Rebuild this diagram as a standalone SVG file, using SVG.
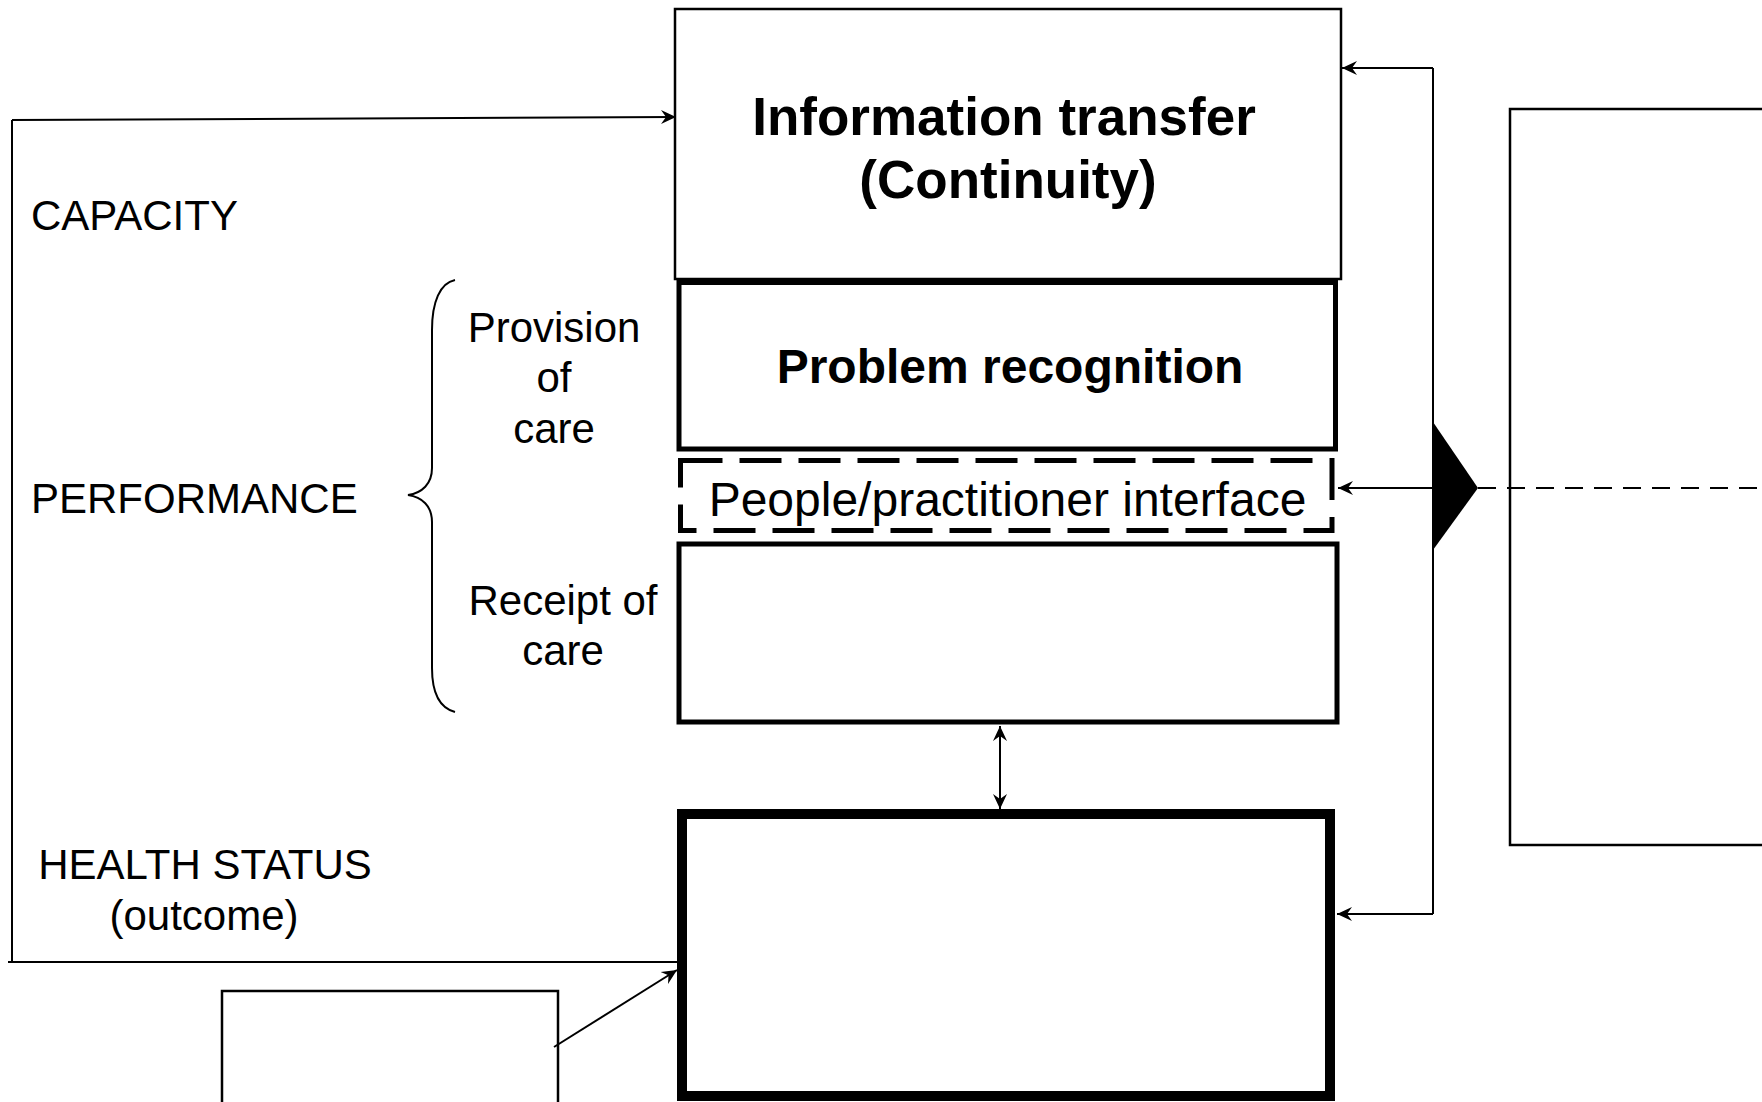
<svg xmlns="http://www.w3.org/2000/svg" width="1762" height="1102" viewBox="0 0 1762 1102">
  <style>
    .box { fill: #fff; stroke: #000; }
    .thin { stroke-width: 2.5; }
    .med { stroke-width: 5; }
    .thick { stroke-width: 10; }
    .dash { stroke-width: 5; stroke-dasharray: 42 17; fill: #fff; stroke: #000; }
    .conn { fill: none; stroke: #000; stroke-width: 2; }
    .lbl { font-family: "Liberation Sans", Arial, sans-serif; font-size: 42px; fill: #000; }
    .big { font-family: "Liberation Sans", Arial, sans-serif; font-weight: bold; fill: #000; text-anchor: middle; }
    .mid { font-family: "Liberation Sans", Arial, sans-serif; font-size: 48px; fill: #000; text-anchor: middle; }
  </style>
  <defs>
    <marker id="arr" markerUnits="userSpaceOnUse" markerWidth="16" markerHeight="16" refX="15" refY="8" orient="auto-start-reverse">
      <path d="M0,1 L15,8 L0,15 L5,8 z" fill="#000"/>
    </marker>
  </defs>
  <rect width="1762" height="1102" fill="#fff"/>

  <g id="info-transfer">
    <rect class="box thin" x="675" y="9" width="666" height="270"/>
    <text class="big" font-size="53" x="1004" y="135">Information transfer</text>
    <text class="big" font-size="53" x="1008" y="198">(Continuity)</text>
  </g>

  <g id="problem-recognition">
    <rect class="box med" x="679" y="282.5" width="656.5" height="166.5"/>
    <text class="big" font-size="48" x="1010" y="383">Problem recognition</text>
  </g>

  <g id="interface">
    <rect class="dash" x="680.5" y="460.5" width="651.5" height="70"/>
    <text class="mid" x="1007.5" y="516">People/practitioner interface</text>
  </g>

  <g id="receipt-box">
    <rect class="box med" x="679" y="544" width="658" height="178"/>
  </g>

  <g id="health-box">
    <rect class="box thick" x="682" y="814" width="648" height="282"/>
  </g>

  <g id="small-box">
    <rect class="box thin" x="222" y="991" width="336" height="120"/>
  </g>

  <g id="right-box">
    <rect class="box thin" x="1510" y="109" width="300" height="736"/>
  </g>

  <g id="labels">
    <text class="lbl" x="31" y="230">CAPACITY</text>
    <text class="lbl" x="31" y="513">PERFORMANCE</text>
    <text class="lbl" x="205" y="879" text-anchor="middle" font-size="41">HEALTH STATUS</text>
    <text class="lbl" x="204" y="930" text-anchor="middle" font-size="41">(outcome)</text>
    <text class="lbl" x="554" y="342" text-anchor="middle">Provision</text>
    <text class="lbl" x="554" y="392" text-anchor="middle">of</text>
    <text class="lbl" x="554" y="443" text-anchor="middle">care</text>
    <text class="lbl" x="563" y="615" text-anchor="middle">Receipt of</text>
    <text class="lbl" x="563" y="665" text-anchor="middle">care</text>
  </g>

  <g id="connectors">
    <path class="conn" d="M12,120 L676,117" marker-end="url(#arr)"/>
    <path class="conn" d="M12,120 L12,962"/>
    <path class="conn" d="M8,962 L678,962"/>
    <path class="conn" d="M1000,726 L1000,809" marker-start="url(#arr)" marker-end="url(#arr)"/>
    <path class="conn" d="M554,1047 L677,970" marker-end="url(#arr)"/>
    <path class="conn" d="M1433,68 L1433,914"/>
    <path class="conn" d="M1433,68 L1342,68" marker-end="url(#arr)"/>
    <path class="conn" d="M1433,488 L1338,488" marker-end="url(#arr)"/>
    <path class="conn" d="M1433,914 L1337,914" marker-end="url(#arr)"/>
    <path class="conn" d="M1478,488 L1762,488" stroke-dasharray="18 11"/>
    <polygon points="1433,422 1478,488 1433,550" fill="#000"/>
    <path id="brace" class="conn" d="M455,280 C440,283 432,302 432,330 L432,468 C432,484 422,493 408,495 C422,497 432,506 432,522 L432,668 C432,694 440,708 455,712"/>
  </g>
</svg>
